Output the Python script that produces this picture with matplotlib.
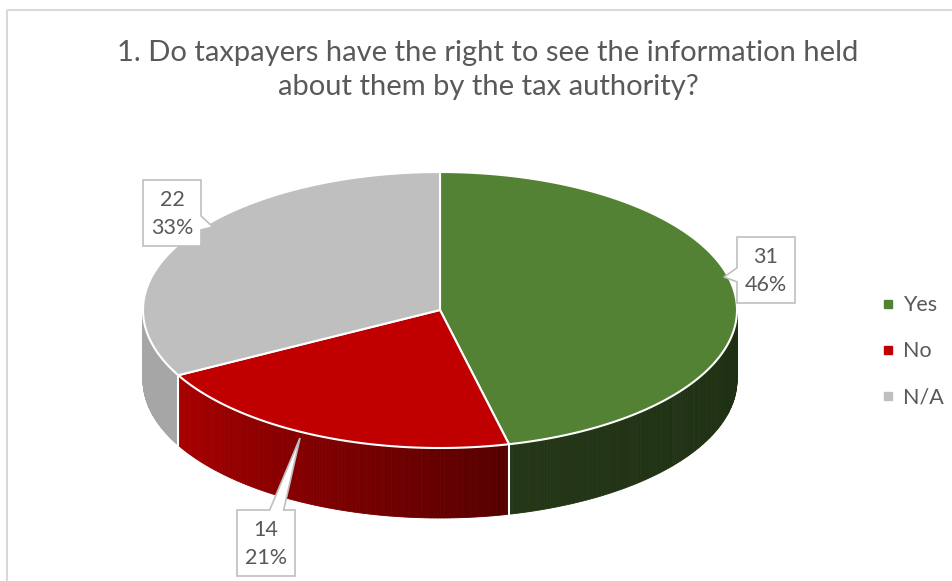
import numpy as np
import matplotlib.pyplot as plt
from matplotlib.patches import Polygon, Rectangle
from matplotlib.colors import to_rgb

# survey answers
labels = ['Yes', 'No', 'N/A']
counts = [31, 14, 22]
colors = ['#548235', '#c00000', '#bfbfbf']
title = '1. Do taxpayers have the right to see the information held\nabout them by the tax authority?'

# side wall brightness (left end, right end) for each slice
wall_shade = [(0.42, 0.36), (0.88, 0.45), (0.87, 0.87)]

plt.rcParams['font.family'] = ['Lato', 'DejaVu Sans']
text_col = '#595959'

fig = plt.figure(figsize=(9.53, 5.81), dpi=100)
ax = fig.add_axes([0, 0, 1, 1])
ax.set_xlim(0, 953)
ax.set_ylim(581, 0)
ax.axis('off')

# chart frame
ax.add_patch(Rectangle((7.5, 9.5), 960, 600, fill=False, ec='#d9d9d9', lw=1.5))

# pie ellipse geometry (pixels)
cx, cy, rx, ry, depth = 440, 310, 297, 138, 70


def ell(t, dz=0):
    t = np.radians(t)
    return cx + rx * np.cos(t), cy - ry * np.sin(t) + dz


fracs = np.array(counts) / sum(counts)
ends = 90 - 360 * np.cumsum(fracs)
starts = np.r_[90, ends[:-1]]

# side walls (front half only)
for i in range(len(counts)):
    lo = max(ends[i], -180)
    hi = min(starts[i], 0)
    if lo >= hi:
        continue
    ts = np.linspace(lo, hi, 120)
    base = np.array(to_rgb(colors[i]))
    s0, s1 = wall_shade[i]
    for k in range(len(ts) - 1):
        f = s0 + (s1 - s0) * k / (len(ts) - 2)
        c = np.clip(base * f, 0, 1)
        xa, ya = ell(ts[k])
        xb, yb = ell(ts[k + 1])
        ax.add_patch(Polygon([(xa, ya), (xb, yb), (xb, yb + depth), (xa, ya + depth)],
                             closed=True, fc=c, ec=c, lw=0.6))

# white seams on the wall where slices meet
for b in ends[:-1]:
    if -180 < b < 0:
        x, y = ell(b)
        ax.plot([x, x], [y, y + depth], color='white', lw=1.5)

# top faces
for i in range(len(counts)):
    ts = np.linspace(starts[i], ends[i], 200)
    xs, ys = ell(ts)
    pts = [(cx, cy)] + list(zip(xs, ys))
    ax.add_patch(Polygon(pts, closed=True, fc=colors[i], ec='white', lw=1.5, joinstyle='round'))


def callout(bx, by, w, h, tip, text):
    x0, x1 = bx - w / 2, bx + w / 2
    y0, y1 = by - h / 2, by + h / 2
    dx, dy = tip[0] - bx, tip[1] - by
    half = 7
    # find the edge the pointer leaves from
    sx = (w / 2) / abs(dx) if dx else np.inf
    sy = (h / 2) / abs(dy) if dy else np.inf
    if sx < sy:
        ey = np.clip(by + dy * sx, y0 + half, y1 - half)
        if dx > 0:
            pts = [(x0, y0), (x1, y0), (x1, ey - half), tip, (x1, ey + half), (x1, y1), (x0, y1)]
        else:
            pts = [(x0, y0), (x1, y0), (x1, y1), (x0, y1), (x0, ey + half), tip, (x0, ey - half)]
    else:
        ex = np.clip(bx + dx * sy, x0 + half, x1 - half)
        if dy < 0:
            pts = [(x0, y0), (ex - half, y0), tip, (ex + half, y0), (x1, y0), (x1, y1), (x0, y1)]
        else:
            pts = [(x0, y0), (x1, y0), (x1, y1), (ex + half, y1), tip, (ex - half, y1), (x0, y1)]
    ax.add_patch(Polygon(pts, closed=True, fc='white', ec='#bfbfbf', lw=1.2, zorder=5))
    ax.text(bx, by + 1, text, ha='center', va='center', fontsize=15.5, color=text_col,
            linespacing=1.45, zorder=6)


# data label boxes and where their pointers end
box_pos = [(766, 270), (266, 543), (172, 213)]
tip_pos = [(724, 277), (300, 438), (213, 227)]
for i in range(len(counts)):
    pct = round(100 * fracs[i])
    callout(box_pos[i][0], box_pos[i][1], 58, 66, tip_pos[i], f'{counts[i]}\n{pct}%')

# legend
for i, lab in enumerate(labels):
    y = 304 + 46 * i
    ax.plot(888, y, marker='s', ms=5.5, color=colors[i], mec=colors[i])
    ax.text(903, y + 1, lab, ha='left', va='center', fontsize=15.5, color=text_col)

ax.text(488, 70, title, ha='center', va='center', fontsize=21, color=text_col, linespacing=1.38)

fig.savefig('out.png', dpi=100)
